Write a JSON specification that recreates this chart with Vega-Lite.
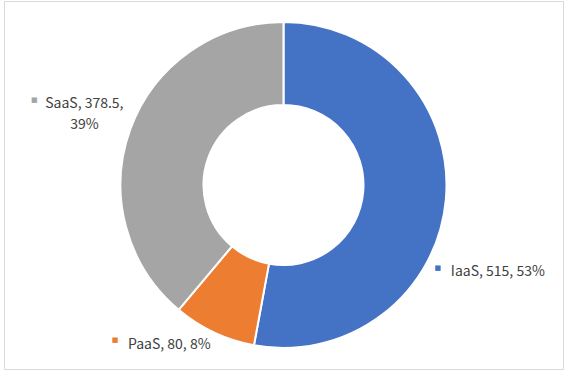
{
  "$schema": "https://vega.github.io/schema/vega-lite/v6.json",
  "autosize": {"type": "fit", "contains": "padding"},
  "width": 564,
  "height": 376,
  "padding": {"left": 4, "top": 1, "right": 1, "bottom": 7},
  "background": "white",
  "view": {"stroke": "#d9d9d9", "strokeWidth": 1},
  "config": {"view": {"stroke": "#d9d9d9", "strokeWidth": 1}},
  "data": {"values": [
    {"cat": "IaaS", "value": 515, "label": "IaaS, 515, 53%"},
    {"cat": "PaaS", "value": 80, "label": "PaaS, 80, 8%"},
    {"cat": "SaaS", "value": 378.5, "label": "SaaS, 378.5, 39%"}
  ]},
  "layer": [
    {
      "mark": {"type": "arc", "outerRadius": 163, "innerRadius": 80, "stroke": "white", "strokeWidth": 2},
      "encoding": {
        "theta": {"field": "value", "type": "quantitative", "stack": true},
        "color": {"field": "cat", "type": "nominal", "scale": {"domain": ["IaaS", "PaaS", "SaaS"], "range": ["#4472C4", "#ED7D31", "#A5A5A5"]}, "legend": null}
      }
    },
    {
      "transform": [
        {"stack": "value", "groupby": [], "sort": [{"field": "cat"}], "as": ["v0", "v1"]},
        {"calculate": "(datum.v0 + datum.v1) / 2", "as": "mid"},
        {"filter": "datum.cat === 'IaaS'"}
      ],
      "layer": [
        {
          "mark": {"type": "text", "radius": 163, "dx": -8, "dy": 68, "font": "DejaVu Sans", "fontSize": 7, "align": "center", "baseline": "middle"},
          "encoding": {
            "theta": {"field": "mid", "type": "quantitative", "stack": null},
            "text": {"value": "■"},
            "color": {"field": "cat", "type": "nominal", "legend": null}
          }
        },
        {
          "mark": {"type": "text", "radius": 163, "dx": 5, "dy": 76, "font": "Noto Sans CJK KR", "fontSize": 14, "align": "left", "baseline": "alphabetic", "color": "#404040"},
          "encoding": {
            "theta": {"field": "mid", "type": "quantitative", "stack": null},
            "text": {"field": "label"}
          }
        }
      ]
    },
    {
      "transform": [
        {"stack": "value", "groupby": [], "sort": [{"field": "cat"}], "as": ["v0", "v1"]},
        {"calculate": "(datum.v0 + datum.v1) / 2", "as": "mid"},
        {"filter": "datum.cat === 'PaaS'"}
      ],
      "layer": [
        {
          "mark": {"type": "text", "radius": 163, "dx": -99, "dy": 8, "font": "DejaVu Sans", "fontSize": 7, "align": "center", "baseline": "middle"},
          "encoding": {
            "theta": {"field": "mid", "type": "quantitative", "stack": null},
            "text": {"value": "■"},
            "color": {"field": "cat", "type": "nominal", "legend": null}
          }
        },
        {
          "mark": {"type": "text", "radius": 163, "dx": -86, "dy": 17, "font": "Noto Sans CJK KR", "fontSize": 14, "align": "left", "baseline": "alphabetic", "color": "#404040"},
          "encoding": {
            "theta": {"field": "mid", "type": "quantitative", "stack": null},
            "text": {"field": "label"}
          }
        }
      ]
    },
    {
      "transform": [
        {"stack": "value", "groupby": [], "sort": [{"field": "cat"}], "as": ["v0", "v1"]},
        {"calculate": "(datum.v0 + datum.v1) / 2", "as": "mid"},
        {"filter": "datum.cat === 'SaaS'"}
      ],
      "layer": [
        {
          "mark": {"type": "text", "radius": 163, "dx": -96, "dy": -29, "font": "DejaVu Sans", "fontSize": 7, "align": "center", "baseline": "middle"},
          "encoding": {
            "theta": {"field": "mid", "type": "quantitative", "stack": null},
            "text": {"value": "■"},
            "color": {"field": "cat", "type": "nominal", "legend": null}
          }
        },
        {
          "mark": {"type": "text", "radius": 163, "dx": -46, "dy": -21, "font": "Noto Sans CJK KR", "fontSize": 14, "align": "center", "baseline": "alphabetic", "lineHeight": 21, "color": "#404040"},
          "encoding": {
            "theta": {"field": "mid", "type": "quantitative", "stack": null},
            "text": {"value": ["SaaS, 378.5,", "39%"]}
          }
        }
      ]
    }
  ]
}
